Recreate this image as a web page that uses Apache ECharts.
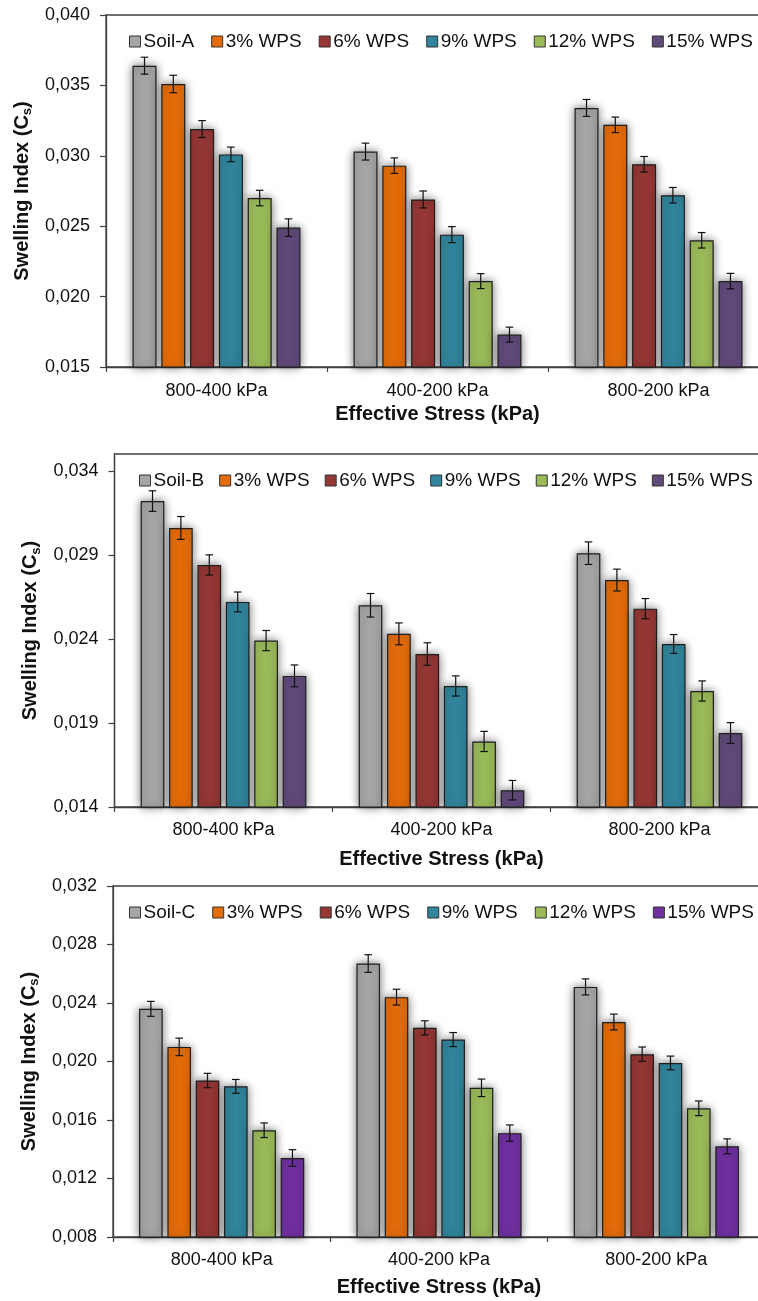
<!DOCTYPE html>
<html>
<head>
<meta charset="utf-8">
<script src="https://cdn.jsdelivr.net/npm/echarts@6/dist/echarts.min.js"></script>
<style>
  html, body { margin: 0; padding: 0; background: #fff; }
  #page { position: relative; width: 758px; height: 1301px; overflow: hidden; }
  .panel { position: absolute; left: 0; width: 758px; }
</style>
</head>
<body>
<div id="page">
  <div id="chartA" class="panel" style="top:0px;height:430px"></div>
  <div id="chartB" class="panel" style="top:425px;height:450px"></div>
  <div id="chartC" class="panel" style="top:865px;height:436px"></div>
</div>
<script>
// Unloading/reloading stress ranges on the x axis
const categories = ['800-400 kPa', '400-200 kPa', '800-200 kPa'];
const wpsLabels = ['3% WPS', '6% WPS', '9% WPS', '12% WPS', '15% WPS'];

// Soil-A swelling index, one row per mix (Soil-A, 3..15% WPS), one column per range
const valuesA = [
  [0.0364, 0.0303, 0.0334],
  [0.0351, 0.0293, 0.0322],
  [0.0319, 0.0269, 0.0294],
  [0.0301, 0.0244, 0.0272],
  [0.0270, 0.0211, 0.0240],
  [0.0249, 0.0173, 0.0211]
];
const errorsA = [
  [0.00060, 0.00060, 0.00060],
  [0.00062, 0.00055, 0.00055],
  [0.00060, 0.00060, 0.00055],
  [0.00052, 0.00057, 0.00055],
  [0.00055, 0.00053, 0.00055],
  [0.00062, 0.00053, 0.00055]
];
const ticksA = [0.015, 0.020, 0.025, 0.030, 0.035, 0.040];
const rangeA = [0.015, 0.040];

// Soil-B
const valuesB = [
  [0.0322, 0.0260, 0.0291],
  [0.0306, 0.0243, 0.0275],
  [0.0284, 0.0231, 0.0258],
  [0.0262, 0.0212, 0.0237],
  [0.0239, 0.0179, 0.0209],
  [0.0218, 0.0150, 0.0184]
];
const errorsB = [
  [0.00061, 0.00070, 0.00067],
  [0.00068, 0.00065, 0.00065],
  [0.00060, 0.00067, 0.00060],
  [0.00059, 0.00060, 0.00056],
  [0.00060, 0.00060, 0.00060],
  [0.00065, 0.00058, 0.00062]
];
const ticksB = [0.014, 0.019, 0.024, 0.029, 0.034];
const rangeB = [0.014, 0.035];

// Soil-C
const valuesC = [
  [0.0236, 0.0267, 0.0251],
  [0.0210, 0.0244, 0.0227],
  [0.0187, 0.0223, 0.0205],
  [0.0183, 0.0215, 0.0199],
  [0.0153, 0.0182, 0.0168],
  [0.0134, 0.0151, 0.0142]
];
const errorsC = [
  [0.00051, 0.00060, 0.00055],
  [0.00060, 0.00054, 0.00054],
  [0.00049, 0.00048, 0.00049],
  [0.00047, 0.00048, 0.00047],
  [0.00050, 0.00060, 0.00050],
  [0.00057, 0.00056, 0.00051]
];
const ticksC = [0.008, 0.012, 0.016, 0.020, 0.024, 0.028, 0.032];
const rangeC = [0.008, 0.032];

const baseColors = ['#a6a6a6', '#e46c0a', '#953735', '#31859c', '#9bbb59'];
const FONT = "'Liberation Sans', Arial, sans-serif";
const CAT_GAP = 0.24;   // share of a category left empty
const BAR_GAP = 0.20;   // gap between bars, as share of bar width

function fmt(v) { return v.toFixed(3).replace('.', ','); }

function buildChart(el, o) {
  const names = [o.baseName].concat(wpsLabels);
  const colors = baseColors.concat([o.lastColor]);
  const nSeries = names.length;

  const barSeries = names.map((name, i) => ({
    type: 'bar',
    name: name,
    data: o.values[i],
    barGap: (BAR_GAP * 100) + '%',
    barCategoryGap: (CAT_GAP * 100) + '%',
    itemStyle: {
      color: colors[i],
      borderColor: '#1e1e1e',
      borderWidth: 1.2,
      shadowBlur: 10,
      shadowColor: 'rgba(0,0,0,0.55)'
    },
    emphasis: { disabled: true },
    z: 2
  }));

  const errData = [];
  o.values.forEach((row, si) => row.forEach((v, ci) => {
    errData.push([ci, si, v, o.errors[si][ci]]);
  }));

  const errSeries = {
    type: 'custom',
    name: 'error',
    data: errData,
    encode: { x: 0, y: 2 },
    z: 5,
    silent: true,
    renderItem: function (params, api) {
      const ci = api.value(0), si = api.value(1), v = api.value(2), e = api.value(3);
      const band = api.size([1, 0])[0];
      const usable = band * (1 - CAT_GAP);
      const bw = usable / (nSeries + (nSeries - 1) * BAR_GAP);
      const x = api.coord([ci, v])[0] - usable / 2 + si * bw * (1 + BAR_GAP) + bw / 2;
      const yTop = api.coord([ci, v + e])[1];
      const yBot = api.coord([ci, v - e])[1];
      const cap = 3.8;
      const st = { stroke: '#111', lineWidth: 1.2 };
      return {
        type: 'group',
        children: [
          { type: 'line', shape: { x1: x, y1: yTop, x2: x, y2: yBot }, style: st },
          { type: 'line', shape: { x1: x - cap, y1: yTop, x2: x + cap, y2: yTop }, style: st },
          { type: 'line', shape: { x1: x - cap, y1: yBot, x2: x + cap, y2: yBot }, style: st }
        ]
      };
    }
  };

  const chart = echarts.init(el, null, { renderer: 'canvas' });
  chart.setOption({
    animation: false,
    textStyle: { fontFamily: FONT },
    grid: {
      left: o.grid.left, top: o.grid.top, width: o.grid.width, height: o.grid.height,
      outerBoundsMode: 'none',
      show: true, borderColor: '#404040', borderWidth: 1.3, backgroundColor: 'transparent'
    },
    legend: {
      data: names,
      left: o.legendLeft,
      top: o.grid.top + 12,
      width: 700,
      itemWidth: 11,
      itemHeight: 11,
      itemGap: o.legendGap,
      icon: 'rect',
      selectedMode: false,
      itemStyle: { borderColor: '#333', borderWidth: 1, shadowBlur: 0, shadowColor: 'transparent' },
      textStyle: { fontSize: 19, color: '#111', fontFamily: FONT, padding: [0, 0, 0, -2] }
    },
    xAxis: {
      type: 'category',
      data: categories,
      name: 'Effective Stress (kPa)',
      nameLocation: 'middle',
      nameGap: o.xNameGap,
      nameTextStyle: { fontSize: 20, fontWeight: 'bold', color: '#111', fontFamily: FONT },
      axisLine: { lineStyle: { color: '#404040', width: 1.3 } },
      axisTick: { show: true, length: 5, alignWithLabel: false, lineStyle: { color: '#404040', width: 1.2 } },
      axisLabel: { fontSize: 18, color: '#111', margin: o.xLabelMargin, fontFamily: FONT },
      splitLine: { show: false }
    },
    yAxis: {
      type: 'value',
      min: o.range[0],
      max: o.range[1],
      name: '{t|Swelling Index (C}{s|s}{t|)}',
      nameLocation: 'middle',
      nameGap: o.yNameGap,
      nameTextStyle: {
        fontFamily: FONT,
        rich: {
          t: { fontSize: 20, fontWeight: 'bold', color: '#111', lineHeight: 24, fontFamily: FONT },
          s: { fontSize: 13, fontWeight: 'bold', color: '#111', lineHeight: 13, verticalAlign: 'bottom', fontFamily: FONT }
        }
      },
      axisLine: { show: true, lineStyle: { color: '#404040', width: 1.3 } },
      axisTick: { show: true, length: 6, customValues: o.ticks, lineStyle: { color: '#404040', width: 1.2 } },
      axisLabel: {
        fontSize: 18, color: '#111', margin: 16, fontFamily: FONT,
        customValues: o.ticks,
        formatter: fmt
      },
      splitLine: { show: false }
    },
    series: barSeries.concat([errSeries])
  });
  return chart;
}

buildChart(document.getElementById('chartA'), {
  baseName: 'Soil-A', values: valuesA, errors: errorsA, ticks: ticksA, range: rangeA,
  lastColor: '#604a7b',
  grid: { left: 106, top: 15, width: 663, height: 352 },
  legendLeft: 124, legendGap: 17, xLabelMargin: 15, xNameGap: 33, yNameGap: 68
});
buildChart(document.getElementById('chartB'), {
  baseName: 'Soil-B', values: valuesB, errors: errorsB, ticks: ticksB, range: rangeB,
  lastColor: '#604a7b',
  grid: { left: 114.5, top: 29, width: 654, height: 353 },
  legendLeft: 134, legendGap: 15, xLabelMargin: 14, xNameGap: 42, yNameGap: 70
});
buildChart(document.getElementById('chartC'), {
  baseName: 'Soil-C', values: valuesC, errors: errorsC, ticks: ticksC, range: rangeC,
  lastColor: '#7030a0',
  grid: { left: 113, top: 21, width: 652, height: 351 },
  legendLeft: 124, legendGap: 17, xLabelMargin: 14, xNameGap: 40, yNameGap: 64
});
</script>
</body>
</html>
